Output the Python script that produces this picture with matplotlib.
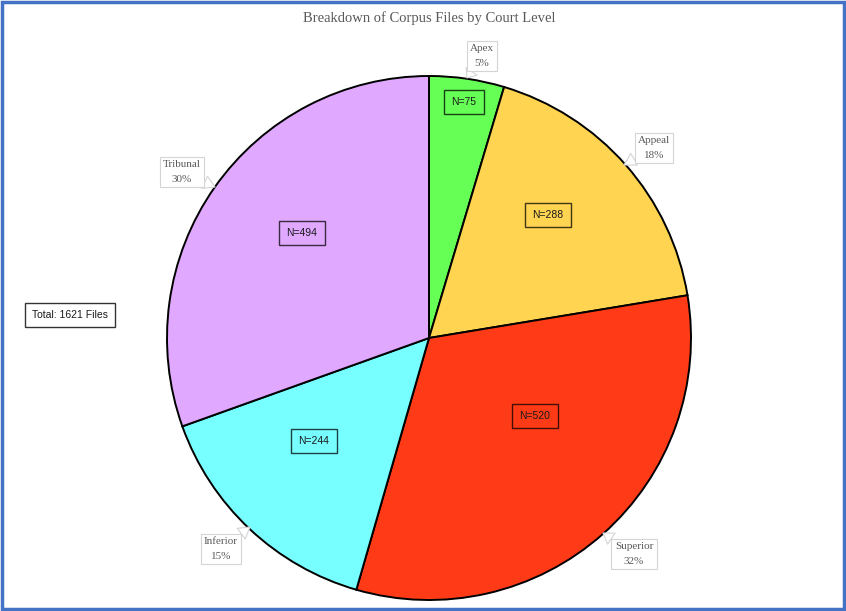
import matplotlib
matplotlib.use("Agg")
import matplotlib.pyplot as plt
from matplotlib.patches import Rectangle

# Court levels and file counts
levels = ["Apex", "Appeal", "Superior", "Inferior", "Tribunal"]
counts = [75, 288, 520, 244, 494]
colors = ["#66FF55", "#FFD451", "#FF3B17", "#77FFFF", "#E0A8FF"]
title = "Breakdown of Corpus Files by Court Level"

W, H = 846, 611
total = sum(counts)

fig = plt.figure(figsize=(W / 100, H / 100), dpi=100)
ax = fig.add_axes([0, 0, 1, 1])


def px(x, y):
    """Convert top-left pixel position to axes data coordinates."""
    return x, H - y


cx, cy = px(429, 338)
wedges, _ = ax.pie(counts, colors=colors, startangle=90, counterclock=False,
                   center=(cx, cy), radius=262,
                   wedgeprops=dict(edgecolor="black", linewidth=1.4))
ax.set_xlim(0, W)
ax.set_ylim(0, H)
ax.set_aspect("equal")
ax.axis("off")

serif = ["Liberation Serif", "DejaVu Serif"]
sans = ["Liberation Sans", "DejaVu Sans"]
gray = "#595959"

ax.text(*px(429, 18), title, ha="center", va="center", fontsize=10.5,
        color=gray, family=serif)

# Callout labels: (box centre, pointer tip) in pixel positions
callouts = {
    "Apex": ((482, 56), (467, 78)),
    "Appeal": ((654, 148), (624, 165)),
    "Superior": ((634, 554), (603, 533)),
    "Inferior": ((221, 549), (250, 527)),
    "Tribunal": ((182, 172), (215, 187)),
}
for name, n in zip(levels, counts):
    box, tip = callouts[name]
    pct = round(100 * n / total)
    ax.annotate(f"{name}\n{pct}%", xy=px(*tip), xytext=px(*box),
                ha="center", va="center", fontsize=8, color=gray,
                family=serif, linespacing=1.75,
                bbox=dict(boxstyle="square,pad=0.3", fc="white",
                          ec="#d4d4d4", lw=0.8),
                arrowprops=dict(arrowstyle="wedge,tail_width=1.2",
                                fc="white", ec="#d4d4d4", lw=0.8,
                                shrinkA=0, shrinkB=0))

# Count labels inside the wedges
count_pos = {
    "Apex": (464, 102),
    "Appeal": (548, 215),
    "Superior": (535, 416),
    "Inferior": (314, 441),
    "Tribunal": (302, 233),
}
for name, n in zip(levels, counts):
    ax.text(*px(*count_pos[name]), f"N={n}", ha="center", va="center",
            fontsize=7.5, color="#1a1a1a", family=sans,
            bbox=dict(boxstyle="square,pad=0.7", fc="none",
                      ec=(0, 0, 0, 0.75), lw=1.0))

ax.text(*px(70, 315), f"Total: {total} Files", ha="center", va="center",
        fontsize=7.5, color="#1a1a1a", family=sans,
        bbox=dict(boxstyle="square,pad=0.7", fc="white", ec="#333333", lw=1.0))

# Blue frame around the whole figure
fig.patches.append(Rectangle((0.002, 0.003), 0.996, 0.994,
                             transform=fig.transFigure, fill=False,
                             ec="#4472C4", lw=2.5))

fig.savefig("out.png", dpi=100)
